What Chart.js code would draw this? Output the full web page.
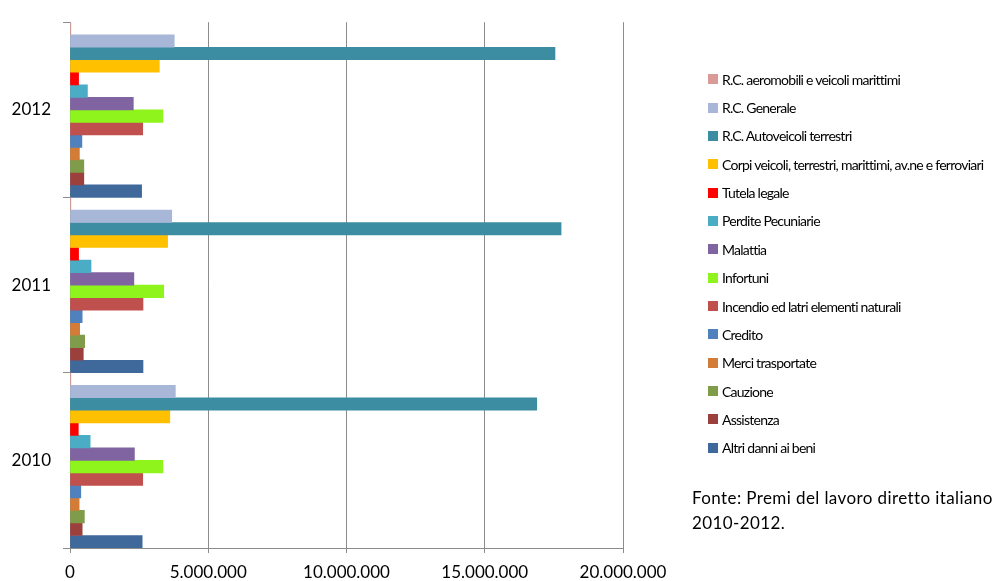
<!DOCTYPE html>
<html>
<head>
<meta charset="utf-8">
<script src="https://cdn.jsdelivr.net/npm/chart.js@4.4.1/dist/chart.umd.min.js"></script>
<style>
    body { margin: 0; background: #fff; font-family: Lato, sans-serif; }
    #wrap { position: relative; width: 996px; height: 581px; }
    #legend { position: absolute; left: 708px; top: 65px; margin: 0; padding: 0; list-style: none; }
    #legend li { height: 28.36px; display: flex; align-items: center; font-size: 14px; letter-spacing: -0.75px; color: #000; white-space: nowrap; }
    #legend .box { width: 10px; height: 10px; margin-right: 4px; flex: none; }
    #note { position: absolute; left: 692px; top: 485px; font-size: 17px; line-height: 25px; letter-spacing: 0.4px; color: #000; }
</style>
</head>
<body>
<div id="wrap">
    <canvas id="chart" width="996" height="581"></canvas>
    <ul id="legend"></ul>
    <div id="note">Fonte: Premi del lavoro diretto italiano<br>2010-2012.</div>
</div>
<script>
const years = ['2012', '2011', '2010'];

const seriesNames = [
    'R.C. aeromobili e veicoli marittimi',
    'R.C.  Generale',
    'R.C.  Autoveicoli terrestri',
    'Corpi veicoli, terrestri, marittimi, av.ne e ferroviari',
    'Tutela legale',
    'Perdite Pecuniarie',
    'Malattia',
    'Infortuni',
    'Incendio ed latri elementi naturali',
    'Credito',
    'Merci trasportate',
    'Cauzione',
    'Assistenza',
    'Altri danni ai beni'
];

const seriesColours = [
    '#d99a98', '#a8b7d8', '#3c8ca2', '#ffc000', '#ff0000', '#4bacc6', '#8064a2',
    '#8ff41c', '#c0504d', '#4f81bd', '#d27c37', '#7f9c4a', '#9c403e', '#3f689b'
];

// premi per anno: 2012, 2011, 2010
const aeromobili        = [30000, 30000, 30000];
const rcGenerale        = [3770000, 3680000, 3810000];
const rcAutoveicoli     = [17540000, 17760000, 16880000];
const corpiVeicoli      = [3230000, 3530000, 3610000];
const tutelaLegale      = [310000, 310000, 300000];
const perditePecuniarie = [630000, 760000, 730000];
const malattia          = [2290000, 2310000, 2330000];
const infortuni         = [3360000, 3390000, 3360000];
const incendio          = [2630000, 2640000, 2630000];
const credito           = [430000, 440000, 390000];
const merciTrasportate  = [340000, 350000, 330000];
const cauzione          = [500000, 530000, 520000];
const assistenza        = [500000, 480000, 440000];
const altriDanni        = [2590000, 2640000, 2610000];

const xTicks = [0, 5000000, 10000000, 15000000, 20000000];

const seriesValues = [
    aeromobili, rcGenerale, rcAutoveicoli, corpiVeicoli, tutelaLegale, perditePecuniarie,
    malattia, infortuni, incendio, credito, merciTrasportate, cauzione, assistenza, altriDanni
];

const axisGrey = '#8c8c8c';

function formatThousands(v) {
    return String(v).replace(/\B(?=(\d{3})+(?!\d))/g, '.');
}

const datasets = seriesNames.map((name, i) => ({
    label: name,
    data: seriesValues[i],
    backgroundColor: seriesColours[i],
    borderWidth: 0,
    categoryPercentage: 1,
    barPercentage: 1
}));

const ctx = document.getElementById('chart').getContext('2d');

const cht = new Chart(ctx, {
    type: 'bar',
    data: { labels: years, datasets },
    options: {
        indexAxis: 'y',
        responsive: false,
        animation: false,
        layout: { padding: { top: 17, right: 373, left: 0, bottom: 0 } },
        plugins: {
            legend: { display: false },
            tooltip: { enabled: false }
        },
        scales: {
            x: {
                min: 0,
                max: 20000000,
                afterBuildTicks: scale => { scale.ticks = xTicks.map(v => ({ value: v })); },
                afterFit: scale => { scale.height = 33; },
                grid: { color: axisGrey, tickLength: 5, lineWidth: 1 },
                border: { color: axisGrey },
                ticks: {
                    color: '#000',
                    padding: 9,
                    maxRotation: 0,
                    font: { family: 'Lato', size: 17 },
                    callback: v => formatThousands(v)
                }
            },
            y: {
                afterFit: scale => { scale.width = 70; },
                grid: { drawOnChartArea: false, offset: true, tickLength: 7, color: axisGrey },
                border: { color: axisGrey },
                ticks: { color: '#000', padding: 12, font: { family: 'Lato', size: 17 } }
            }
        }
    }
});

// legenda a destra
const legend = document.getElementById('legend');
cht.data.datasets.forEach(ds => {
    const li = document.createElement('li');
    const box = document.createElement('span');
    box.className = 'box';
    box.style.background = ds.backgroundColor;
    li.appendChild(box);
    li.appendChild(document.createTextNode(ds.label));
    legend.appendChild(li);
});
</script>
</body>
</html>
